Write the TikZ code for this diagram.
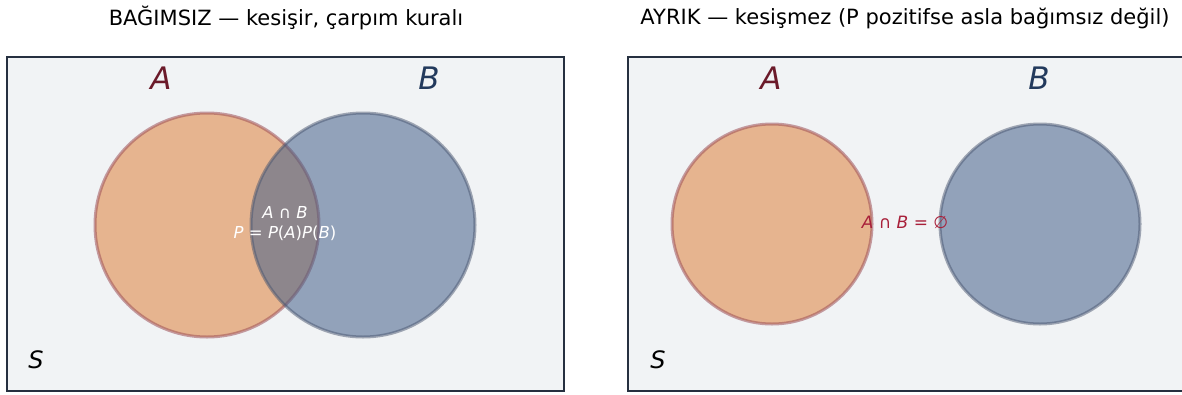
\documentclass[tikz,border=0pt]{standalone}
\usepackage{fontspec}
\setmainfont{DejaVu Sans}
\definecolor{panelbg}{HTML}{F1F3F5}
\definecolor{panelline}{HTML}{263040}
\definecolor{setA}{HTML}{E08A4C}
\definecolor{setB}{HTML}{44618A}
\definecolor{edgeA}{HTML}{9E5058}
\definecolor{edgeB}{HTML}{4A5670}
\definecolor{labA}{HTML}{6B1A2A}
\definecolor{labB}{HTML}{22395C}
\definecolor{emptycol}{HTML}{A8203A}
\tikzset{
  panel/.style={draw=panelline, line width=2.2pt, fill=panelbg},
  circA/.style={circle, fill=setA, fill opacity=0.6, draw=edgeA, draw opacity=0.55, line width=3pt},
  circB/.style={circle, fill=setB, fill opacity=0.55, draw=edgeB, draw opacity=0.5, line width=3pt},
  title/.style={font=\fontsize{21}{24}\selectfont},
  setlab/.style={font=\fontsize{31}{34}\selectfont\itshape},
}
\begin{document}
\begin{tikzpicture}[x=1pt,y=-1pt]
\useasboundingbox (0,0) rectangle (1182,394);
% independent events
\node[title] (t1) at (286,18) {BAĞIMSIZ — kesişir, çarpım kuralı};
\draw[panel] (7,57) rectangle (564,391);
\node[circA, minimum size=224pt] (a1) at (207,225) {};
\node[circB, minimum size=224pt] (b1) at (363,225) {};
\node[setlab, text=labA] (la1) at (161,78) {A};
\node[setlab, text=labB] (lb1) at (429,78) {B};
\node[font=\fontsize{24}{26}\selectfont\itshape] (s1) at (36,360) {S};
\node[text=white, font=\fontsize{16.5}{20}\selectfont, align=center] (ab1) at (285,224)
  {\textit{A} ∩ \textit{B}\\\textit{P} = \textit{P}(\textit{A})\textit{P}(\textit{B})};
% disjoint events
\node[title] (t2) at (905,18) {AYRIK — kesişmez (P pozitifse asla bağımsız değil)};
\draw[panel] (628,57) rectangle (1195,391);
\node[circA, minimum size=200pt] (a2) at (772,224) {};
\node[circB, minimum size=200pt] (b2) at (1040,224) {};
\node[setlab, text=labA] (la2) at (771,78) {A};
\node[setlab, text=labB] (lb2) at (1039,78) {B};
\node[font=\fontsize{24}{26}\selectfont\itshape] (s2) at (658,360) {S};
\node[text=emptycol, font=\fontsize{17}{20}\selectfont] (ab2) at (905,222)
  {\textit{A} ∩ \textit{B} = ∅};
\end{tikzpicture}
\end{document}
